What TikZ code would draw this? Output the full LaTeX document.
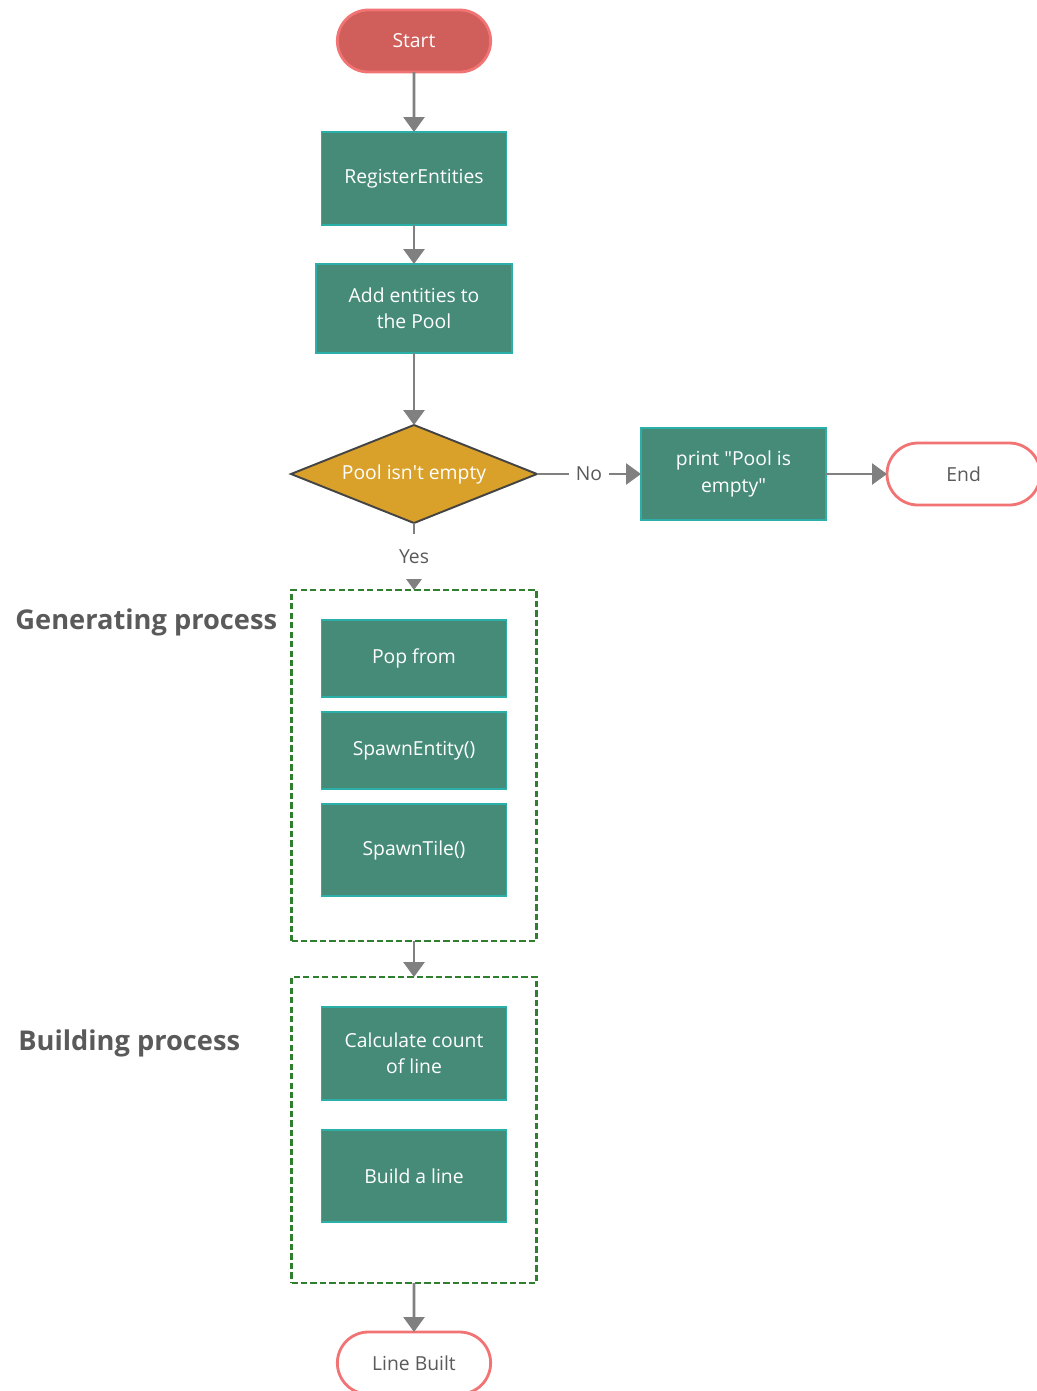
\documentclass[tikz,border=0pt]{standalone}
\usepackage{fontspec}
\setmainfont{Open Sans}
\usepackage{xcolor}
\definecolor{flowTeal}{HTML}{468B78}
\definecolor{flowTealBorder}{HTML}{2AB0A8}
\definecolor{flowRed}{HTML}{D05E5A}
\definecolor{flowRedBorder}{HTML}{F27373}
\definecolor{flowGold}{HTML}{D9A02A}
\definecolor{flowDark}{HTML}{444444}
\definecolor{flowGray}{HTML}{808080}
\definecolor{flowText}{HTML}{5A5A5A}
\definecolor{flowGreen}{HTML}{2F7F2F}
\usepackage{tikz}
\usetikzlibrary{shapes,arrows.meta,positioning,calc}
\tikzset{
    terminal/.style={
        rounded rectangle,
        draw=flowRedBorder,
        fill=flowRed,
        line width=1.6pt,
        outer sep=0pt,
        minimum width=3.3cm,
        minimum height=1.24cm,
        text=white,
        font=\fontsize{11}{15}\selectfont
    },
    endpoint/.style={
        terminal,
        fill=white,
        text=flowText
    },
    process/.style={
        rectangle,
        draw=flowTealBorder,
        fill=flowTeal,
        line width=1.1pt,
        outer sep=0pt,
        align=center,
        minimum width=3.7cm,
        text=white,
        font=\fontsize{11}{15}\selectfont
    },
    decision/.style={
        diamond,
        draw=flowDark,
        fill=flowGold,
        line width=1.1pt,
        outer sep=0pt,
        inner sep=0pt,
        aspect=2.5,
        minimum width=4.92cm,
        minimum height=1.96cm,
        text=white,
        font=\fontsize{11}{15}\selectfont
    },
    group/.style={
        rectangle,
        draw=flowGreen,
        line width=1.4pt,
        outer sep=0pt,
        dash pattern=on 3.6pt off 1.8pt,
        minimum width=4.9cm
    },
    grouplabel/.style={
        font=\fontsize{15.5}{19}\selectfont\bfseries,
        text=flowText,
        inner sep=0pt
    },
    arrow/.style={
        -{Triangle[length=0.3cm,width=0.42cm]},
        line width=1.6pt,
        color=flowGray
    },
    label/.style={
        font=\fontsize{11}{13}\selectfont,
        text=flowText,
        midway,
        fill=white,
        inner xsep=4pt,
        inner ysep=9pt
    }
}

\begin{document}
\begin{tikzpicture}[node distance=1cm]
    \useasboundingbox (0,0) rectangle (20.72,-27.82);

    % Main column
    \node[terminal] (start) at (8.28,-0.82) {Start};
    \node[process, below=1.2cm of start, minimum height=1.86cm] (reg) {RegisterEntities};
    \node[process, below=0.78cm of reg, minimum width=3.92cm, minimum height=1.78cm] (add) {Add entities to\\the Pool};
    \node[decision, below=1.44cm of add] (dia) {Pool isn\textquotesingle t empty};

    % No branch
    \node[process, right=2.08cm of dia, minimum height=1.84cm] (print) {print \textquotedbl Pool is\\empty\textquotedbl};
    \node[endpoint, right=1.22cm of print] (end) {End};

    % Generating process
    \node[group, below=1.34cm of dia, minimum height=7.02cm] (gen) {};
    \node[process, below=0.6cm of gen.north, minimum height=1.54cm] (pop) {Pop from};
    \node[process, below=0.3cm of pop, minimum height=1.54cm] (spawnent) {SpawnEntity()};
    \node[process, below=0.3cm of spawnent, minimum height=1.84cm] (spawntile) {SpawnTile()};
    \node[grouplabel, left=0.28cm of gen.north west, yshift=-0.64cm] (genlabel) {Generating process};

    % Building process
    \node[group, below=0.72cm of gen, minimum height=6.12cm] (bld) {};
    \node[process, below=0.6cm of bld.north, minimum height=1.86cm] (calc) {Calculate count\\of line};
    \node[process, below=0.6cm of calc, minimum height=1.84cm] (build) {Build a line};
    \node[grouplabel, left=1.02cm of bld.north west, yshift=-1.32cm] (bldlabel) {Building process};

    % Result
    \node[endpoint, below=0.98cm of bld] (built) {Line Built};

    % Arrows
    \draw[arrow] (start) -- (reg);
    \draw[arrow] (reg) -- (add);
    \draw[arrow] (add) -- (dia);
    \draw[arrow] (dia) -- node[label] {No} (print);
    \draw[arrow] (print) -- (end);
    \draw[arrow] (dia) -- node[label] {Yes} (gen);
    \draw[arrow] (gen) -- (bld);
    \draw[arrow] (bld) -- (built);
\end{tikzpicture}
\end{document}
